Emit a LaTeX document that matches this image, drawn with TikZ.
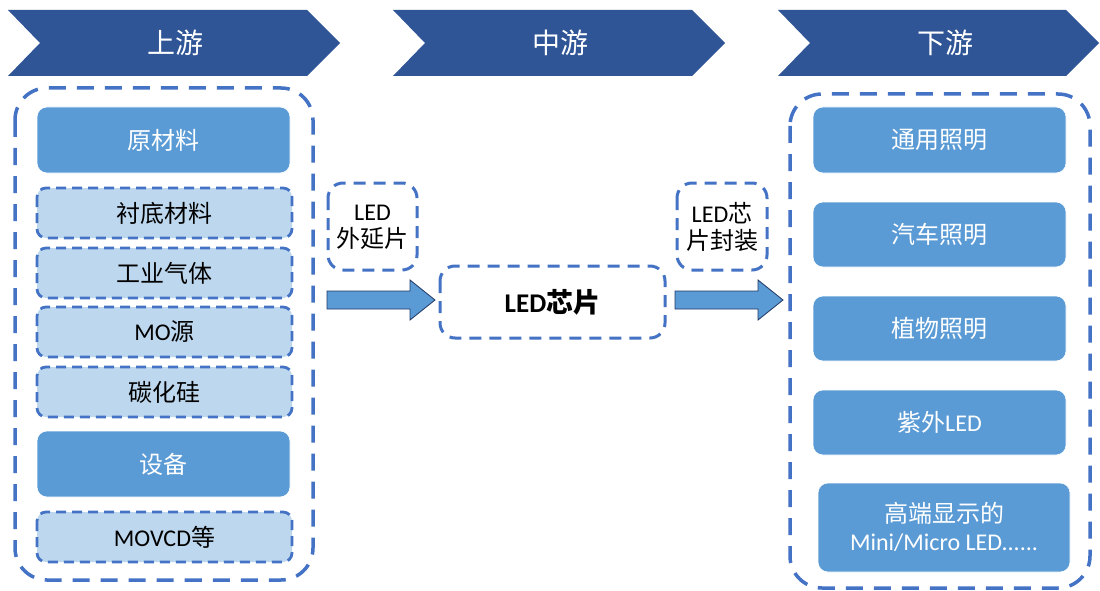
\documentclass[tikz,border=0pt]{standalone}
\usepackage{fontspec}
\setmainfont{Carlito}
\newfontfamily\cjk{Noto Sans CJK SC}
\newcommand\zh[1]{{\cjk #1}}
\definecolor{chev}{HTML}{2F5597}
\definecolor{dashc}{HTML}{4472C4}
\definecolor{midb}{HTML}{5B9BD5}
\definecolor{lightb}{HTML}{BDD7EE}
\definecolor{arrline}{HTML}{203864}
\begin{document}
\begin{tikzpicture}[x=1pt,y=-1pt,
  chevron/.style={fill=chev,draw=none},
  chevtext/.style={text=white,font=\fontsize{28}{30}\selectfont},
  bigframe/.style={draw=dashc,line width=3.5pt,dash pattern=on 17pt off 11pt,rounded corners=32pt},
  solidbox/.style={fill=midb,draw=white,line width=0.6pt,rounded corners=10pt},
  lightbox/.style={fill=lightb,draw=dashc,line width=2.8pt,dash pattern=on 10pt off 6pt,rounded corners=9pt},
  smallframe/.style={draw=dashc,line width=3pt,dash pattern=on 12pt off 8pt,rounded corners=15pt},
  wtxt/.style={text=white,font=\fontsize{24}{28}\selectfont},
  btxt/.style={text=black,font=\fontsize{24}{28}\selectfont},
  blockarrow/.style={fill=midb,draw=arrline,line width=0.8pt}
]
\useasboundingbox (0,0) rectangle (1100,591);

% chevrons
\fill[chevron] (8,10) -- (307,10) -- (340,43) -- (307,76) -- (8,76) -- (40,43) -- cycle;
\fill[chevron] (393,10) -- (692,10) -- (725,43) -- (692,76) -- (393,76) -- (425,43) -- cycle;
\fill[chevron] (778,10) -- (1066,10) -- (1099,43) -- (1066,76) -- (778,76) -- (810,43) -- cycle;
\node[chevtext] (h1) at (175,43) {\zh{上游}};
\node[chevtext] (h2) at (560,43) {\zh{中游}};
\node[chevtext] (h3) at (945,43) {\zh{下游}};

% left frame
\draw[bigframe] (15,88) rectangle (313,580);
\draw[solidbox] (37,107) rectangle (290,173);
\node[wtxt] (a1) at (163.5,140) {\zh{原材料}};
\draw[lightbox] (37,188) rectangle (292,238);
\node[btxt] (a2) at (164.5,213) {\zh{衬底材料}};
\draw[lightbox] (37,248) rectangle (292,298);
\node[btxt] (a3) at (164.5,273) {\zh{工业气体}};
\draw[lightbox] (37,307) rectangle (292,357);
\node[btxt] (a4) at (164.5,332) {MO\zh{源}};
\draw[lightbox] (37,367) rectangle (292,417);
\node[btxt] (a5) at (164.5,392) {\zh{碳化硅}};
\draw[solidbox] (37,431) rectangle (290,497);
\node[wtxt] (a6) at (163.5,464) {\zh{设备}};
\draw[lightbox] (37,512) rectangle (292,562);
\node[btxt] (a7) at (164.5,537) {MOVCD\zh{等}};

% middle
\draw[smallframe] (328,183) rectangle (417,270);
\node[btxt,align=center] (m1) at (372.5,227) {LED\\[-1pt]\zh{外延片}};
\draw[smallframe] (440,266) rectangle (665,338);
\node[font=\fontsize{27}{30}\selectfont\bfseries] (chip) at (552.5,302) {LED{\cjk\bfseries 芯片}};
\draw[smallframe] (677,183) rectangle (767,270);
\node[btxt,align=center] (m2) at (722,227) {LED\zh{芯}\\[-1pt]\zh{片封装}};

% block arrows
\draw[blockarrow] (327,291) -- (410,291) -- (410,280) -- (435,300) -- (410,320) -- (410,309) -- (327,309) -- cycle;
\draw[blockarrow] (675,291) -- (758,291) -- (758,280) -- (783,300) -- (758,320) -- (758,309) -- (675,309) -- cycle;

% right frame
\draw[bigframe] (790,94) rectangle (1090,588);
\draw[solidbox] (813,107) rectangle (1066,173);
\node[wtxt] (d1) at (939.5,140) {\zh{通用照明}};
\draw[solidbox] (813,202) rectangle (1066,267);
\node[wtxt] (d2) at (939.5,234) {\zh{汽车照明}};
\draw[solidbox] (813,296) rectangle (1066,361);
\node[wtxt] (d3) at (939.5,328) {\zh{植物照明}};
\draw[solidbox] (813,390) rectangle (1066,455);
\node[wtxt] (d4) at (939.5,422) {\zh{紫外}LED};
\draw[solidbox] (818,483) rectangle (1070,572);
\node[wtxt,align=center] (d5) at (944,527) {\zh{高端显示的}\\Mini/Micro LED......};
\end{tikzpicture}
\end{document}
